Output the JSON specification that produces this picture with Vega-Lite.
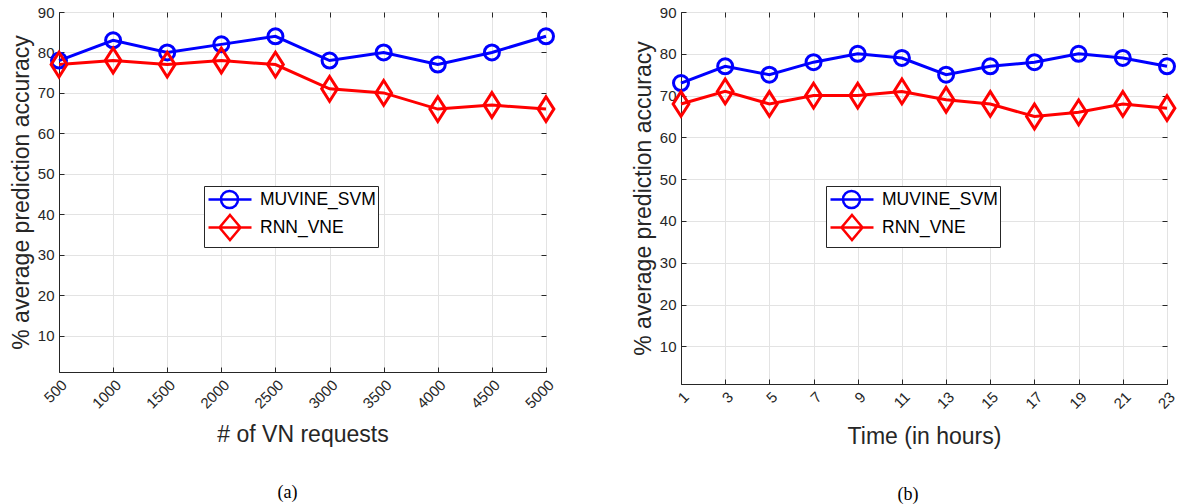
{
  "$schema": "https://vega.github.io/schema/vega-lite/v6.json",
  "background": "white",
  "padding": {"left": 9, "top": 4, "right": 5, "bottom": 5},
  "datasets": {
    "a": [
      {"x": 500, "acc": 78, "series": "MUVINE_SVM"},
      {"x": 1000, "acc": 83, "series": "MUVINE_SVM"},
      {"x": 1500, "acc": 80, "series": "MUVINE_SVM"},
      {"x": 2000, "acc": 82, "series": "MUVINE_SVM"},
      {"x": 2500, "acc": 84, "series": "MUVINE_SVM"},
      {"x": 3000, "acc": 78, "series": "MUVINE_SVM"},
      {"x": 3500, "acc": 80, "series": "MUVINE_SVM"},
      {"x": 4000, "acc": 77, "series": "MUVINE_SVM"},
      {"x": 4500, "acc": 80, "series": "MUVINE_SVM"},
      {"x": 5000, "acc": 84, "series": "MUVINE_SVM"},
      {"x": 500, "acc": 77, "series": "RNN_VNE"},
      {"x": 1000, "acc": 78, "series": "RNN_VNE"},
      {"x": 1500, "acc": 77, "series": "RNN_VNE"},
      {"x": 2000, "acc": 78, "series": "RNN_VNE"},
      {"x": 2500, "acc": 77, "series": "RNN_VNE"},
      {"x": 3000, "acc": 71, "series": "RNN_VNE"},
      {"x": 3500, "acc": 70, "series": "RNN_VNE"},
      {"x": 4000, "acc": 66, "series": "RNN_VNE"},
      {"x": 4500, "acc": 67, "series": "RNN_VNE"},
      {"x": 5000, "acc": 66, "series": "RNN_VNE"}
    ],
    "b": [
      {"x": 1, "acc": 73, "series": "MUVINE_SVM"},
      {"x": 3, "acc": 77, "series": "MUVINE_SVM"},
      {"x": 5, "acc": 75, "series": "MUVINE_SVM"},
      {"x": 7, "acc": 78, "series": "MUVINE_SVM"},
      {"x": 9, "acc": 80, "series": "MUVINE_SVM"},
      {"x": 11, "acc": 79, "series": "MUVINE_SVM"},
      {"x": 13, "acc": 75, "series": "MUVINE_SVM"},
      {"x": 15, "acc": 77, "series": "MUVINE_SVM"},
      {"x": 17, "acc": 78, "series": "MUVINE_SVM"},
      {"x": 19, "acc": 80, "series": "MUVINE_SVM"},
      {"x": 21, "acc": 79, "series": "MUVINE_SVM"},
      {"x": 23, "acc": 77, "series": "MUVINE_SVM"},
      {"x": 1, "acc": 68, "series": "RNN_VNE"},
      {"x": 3, "acc": 71, "series": "RNN_VNE"},
      {"x": 5, "acc": 68, "series": "RNN_VNE"},
      {"x": 7, "acc": 70, "series": "RNN_VNE"},
      {"x": 9, "acc": 70, "series": "RNN_VNE"},
      {"x": 11, "acc": 71, "series": "RNN_VNE"},
      {"x": 13, "acc": 69, "series": "RNN_VNE"},
      {"x": 15, "acc": 68, "series": "RNN_VNE"},
      {"x": 17, "acc": 65, "series": "RNN_VNE"},
      {"x": 19, "acc": 66, "series": "RNN_VNE"},
      {"x": 21, "acc": 68, "series": "RNN_VNE"},
      {"x": 23, "acc": 67, "series": "RNN_VNE"}
    ]
  },
  "spacing": 70,
  "hconcat": [
    {
      "width": 487,
      "height": 360,
      "data": {"name": "a"},
      "title": {"text": "(a)", "orient": "bottom", "frame": "group", "anchor": "middle", "dx": -15, "offset": 38, "font": "Liberation Serif", "fontSize": 18, "fontWeight": "normal", "color": "black"},
      "layer": [
        {
          "mark": {"type": "line", "strokeWidth": 3},
          "encoding": {
            "x": {"field": "x", "type": "quantitative", "scale": {"domain": [500, 5000], "nice": false, "zero": false},
                  "axis": {"title": "# of VN requests", "titlePadding": 12, "values": [500, 1000, 1500, 2000, 2500, 3000, 3500, 4000, 4500, 5000], "format": "d", "labelAngle": -45}},
            "y": {"field": "acc", "type": "quantitative", "scale": {"domain": [1, 90], "nice": false, "zero": false},
                  "axis": {"title": "% average prediction accuracy", "values": [10, 20, 30, 40, 50, 60, 70, 80, 90]}},
            "color": {"field": "series", "type": "nominal", "scale": {"domain": ["MUVINE_SVM", "RNN_VNE"], "range": ["#0000ff", "#ff0000"]}, "legend": null}
          }
        },
        {
          "mark": {"type": "point", "filled": false, "size": 225, "strokeWidth": 3, "opacity": 1},
          "encoding": {
            "x": {"field": "x", "type": "quantitative", "axis": {"orient": "top", "values": [500, 1000, 1500, 2000, 2500, 3000, 3500, 4000, 4500, 5000], "labels": false, "title": null, "grid": false, "domain": false}},
            "y": {"field": "acc", "type": "quantitative", "axis": {"orient": "right", "values": [10, 20, 30, 40, 50, 60, 70, 80, 90], "labels": false, "title": null, "grid": false, "domain": false}},
            "color": {"field": "series", "type": "nominal", "scale": {"domain": ["MUVINE_SVM", "RNN_VNE"], "range": ["#0000ff", "#ff0000"]}, "legend": null},
            "shape": {"field": "series", "type": "nominal", "scale": {"domain": ["MUVINE_SVM", "RNN_VNE"], "range": ["circle", "M0,-1.65L1.05,0L0,1.65L-1.05,0Z"]}, "legend": null}
          }
        },
        {
          "transform": [{"filter": "false"}],
          "mark": {"type": "point", "filled": false, "strokeWidth": 2.5, "opacity": 1},
          "encoding": {
            "color": {"field": "series", "type": "nominal", "scale": {"domain": ["MUVINE_SVM", "RNN_VNE"], "range": ["#0000ff", "#ff0000"]},
                      "legend": {"title": null, "orient": "none", "legendX": 145, "legendY": 174}},
            "shape": {"field": "series", "type": "nominal", "scale": {"domain": ["MUVINE_SVM", "RNN_VNE"], "range": ["M-0.9,0L3.4,0M2.05,0A0.85,0.85 0 1 1 0.35,0A0.85,0.85 0 1 1 2.05,0", "M-0.9,0L3.4,0M1.25,-1.25L2.3,0L1.25,1.25L0.2,0Z"]},
                      "legend": {"title": null, "orient": "none", "legendX": 145, "legendY": 174}}
          }
        }
      ],
      "resolve": {"axis": {"x": "independent", "y": "independent"}, "scale": {"color": "independent", "shape": "independent"}, "legend": {"color": "independent", "shape": "independent"}}
    },
    {
      "width": 486,
      "height": 372,
      "data": {"name": "b"},
      "title": {"text": "(b)", "orient": "bottom", "frame": "group", "anchor": "middle", "dx": -16, "offset": 38, "font": "Liberation Serif", "fontSize": 18, "fontWeight": "normal", "color": "black"},
      "layer": [
        {
          "mark": {"type": "line", "strokeWidth": 3},
          "encoding": {
            "x": {"field": "x", "type": "quantitative", "scale": {"domain": [1, 23], "nice": false, "zero": false},
                  "axis": {"title": "Time (in hours)", "titlePadding": 14, "values": [1, 3, 5, 7, 9, 11, 13, 15, 17, 19, 21, 23], "format": "d", "labelAngle": -45}},
            "y": {"field": "acc", "type": "quantitative", "scale": {"domain": [1, 90], "nice": false, "zero": false},
                  "axis": {"title": "% average prediction accuracy", "values": [10, 20, 30, 40, 50, 60, 70, 80, 90]}},
            "color": {"field": "series", "type": "nominal", "scale": {"domain": ["MUVINE_SVM", "RNN_VNE"], "range": ["#0000ff", "#ff0000"]}, "legend": null}
          }
        },
        {
          "mark": {"type": "point", "filled": false, "size": 225, "strokeWidth": 3, "opacity": 1},
          "encoding": {
            "x": {"field": "x", "type": "quantitative", "axis": {"orient": "top", "values": [1, 3, 5, 7, 9, 11, 13, 15, 17, 19, 21, 23], "labels": false, "title": null, "grid": false, "domain": false}},
            "y": {"field": "acc", "type": "quantitative", "axis": {"orient": "right", "values": [10, 20, 30, 40, 50, 60, 70, 80, 90], "labels": false, "title": null, "grid": false, "domain": false}},
            "color": {"field": "series", "type": "nominal", "scale": {"domain": ["MUVINE_SVM", "RNN_VNE"], "range": ["#0000ff", "#ff0000"]}, "legend": null},
            "shape": {"field": "series", "type": "nominal", "scale": {"domain": ["MUVINE_SVM", "RNN_VNE"], "range": ["circle", "M0,-1.65L1.05,0L0,1.65L-1.05,0Z"]}, "legend": null}
          }
        },
        {
          "transform": [{"filter": "false"}],
          "mark": {"type": "point", "filled": false, "strokeWidth": 2.5, "opacity": 1},
          "encoding": {
            "color": {"field": "series", "type": "nominal", "scale": {"domain": ["MUVINE_SVM", "RNN_VNE"], "range": ["#0000ff", "#ff0000"]},
                      "legend": {"title": null, "orient": "none", "legendX": 145, "legendY": 174}},
            "shape": {"field": "series", "type": "nominal", "scale": {"domain": ["MUVINE_SVM", "RNN_VNE"], "range": ["M-0.9,0L3.4,0M2.05,0A0.85,0.85 0 1 1 0.35,0A0.85,0.85 0 1 1 2.05,0", "M-0.9,0L3.4,0M1.25,-1.25L2.3,0L1.25,1.25L0.2,0Z"]},
                      "legend": {"title": null, "orient": "none", "legendX": 145, "legendY": 174}}
          }
        }
      ],
      "resolve": {"axis": {"x": "independent", "y": "independent"}, "scale": {"color": "independent", "shape": "independent"}, "legend": {"color": "independent", "shape": "independent"}}
    }
  ],
  "resolve": {"scale": {"x": "independent", "y": "independent", "color": "independent", "shape": "independent"}, "legend": {"color": "independent", "shape": "independent"}},
  "config": {
    "view": {"stroke": "#262626", "strokeWidth": 1},
    "axis": {
      "labelFont": "Liberation Sans", "labelFontSize": 15, "labelColor": "#262626",
      "titleFont": "Liberation Sans", "titleFontSize": 23, "titleFontWeight": "normal", "titleColor": "#262626",
      "domainColor": "#262626", "domainWidth": 1, "tickColor": "#262626", "tickWidth": 1, "tickSize": -5,
      "gridColor": "#e3e3e3", "gridWidth": 1, "labelPadding": 10
    },
    "legend": {
      "padding": 2, "rowPadding": -3, "symbolSize": 400, "symbolStrokeWidth": 2.5, "labelOffset": 31,
      "symbolOpacity": 1,
      "labelFont": "Liberation Sans", "labelFontSize": 17.5, "labelColor": "black",
      "strokeColor": "#262626", "fillColor": "white", "cornerRadius": 0,
      "symbolFillColor": "transparent"
    }
  }
}
